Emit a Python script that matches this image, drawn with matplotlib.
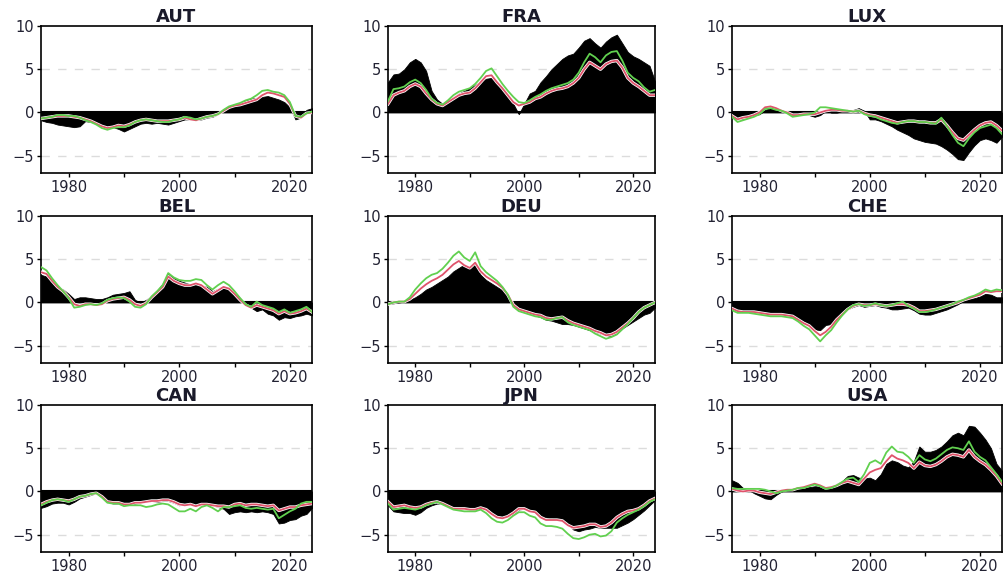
import numpy as np
import matplotlib
matplotlib.use("Agg")
import matplotlib.pyplot as plt
import matplotlib.patheffects as pe

years = np.arange(1975, 2025)
countries = ["AUT", "FRA", "LUX", "BEL", "DEU", "CHE", "CAN", "JPN", "USA"]

# black filled series
aut_fill = [-0.9, -1.1, -1.2, -1.4, -1.5, -1.6, -1.7, -1.6, -1.0, -1.1, -1.3, -1.6, -1.8, -1.7, -1.9, -2.2, -1.9, -1.6, -1.3, -1.2,
            -1.3, -1.2, -1.3, -1.4, -1.2, -1.0, -0.8, -0.8, -0.9, -0.8, -0.6, -0.5, -0.2, 0.2, 0.5, 0.8, 1.0, 1.4, 1.6, 1.7,
            1.8, 1.9, 1.7, 1.5, 1.2, 0.6, -0.8, -0.6, 0.3, 0.5]
fra_fill = [3.5, 4.4, 4.5, 5.0, 5.8, 6.2, 5.8, 4.8, 2.5, 1.5, 1.0, 1.2, 1.8, 2.2, 2.5, 2.8, 3.2, 3.6, 3.9, 4.0,
            3.4, 2.5, 1.8, 1.0, -0.2, 1.0, 2.2, 2.5, 3.5, 4.2, 5.0, 5.6, 6.2, 6.6, 6.8, 7.5, 8.3, 8.6, 8.0, 7.5,
            8.2, 8.7, 9.0, 8.0, 7.0, 6.5, 6.2, 5.8, 5.4, 3.6]
lux_fill = [-0.5, -0.8, -0.7, -0.5, -0.3, -0.2, 0.3, 0.5, 0.3, 0.1, 0.0, -0.3, -0.3, -0.3, -0.3, -0.5, -0.3, 0.2, 0.0, 0.0,
            0.1, 0.1, 0.3, 0.5, 0.2, -0.8, -0.8, -1.0, -1.3, -1.6, -2.0, -2.3, -2.6, -3.0, -3.2, -3.4, -3.5, -3.6, -3.9, -4.3,
            -4.8, -5.4, -5.5, -4.6, -3.8, -3.2, -3.0, -3.2, -3.5, -2.8]
bel_fill = [3.2, 3.0, 2.4, 1.8, 1.5, 1.0, 0.4, 0.6, 0.6, 0.5, 0.4, 0.4, 0.6, 0.9, 1.0, 1.1, 1.3, 0.3, 0.0, 0.3,
            0.8, 1.4, 2.2, 3.3, 2.8, 2.5, 2.3, 2.1, 2.2, 2.0, 1.8, 1.3, 1.6, 1.8, 1.5, 1.2, 0.5, -0.2, -0.6, -1.0,
            -0.8, -1.3, -1.5, -2.0, -1.7, -1.8, -1.6, -1.5, -1.3, -1.5]
deu_fill = [-0.2, -0.1, 0.0, 0.1, 0.3, 0.6, 1.0, 1.5, 1.8, 2.2, 2.6, 3.0, 3.6, 4.0, 4.4, 4.0, 4.5, 3.2, 2.6, 2.2,
            1.8, 1.4, 0.8, -0.3, -0.7, -1.0, -1.3, -1.5, -1.7, -2.0, -2.1, -2.3, -2.5, -2.5, -2.6, -2.8, -3.0, -3.2, -3.4, -3.6,
            -3.8, -3.9, -3.6, -3.0, -2.6, -2.2, -1.8, -1.4, -1.2, -0.6]
che_fill = [-0.6, -0.9, -1.0, -1.1, -1.1, -1.1, -1.3, -1.4, -1.5, -1.5, -1.5, -1.6, -1.9, -2.2, -2.5, -3.1, -3.2, -2.6, -2.5, -1.9,
            -1.4, -0.8, -0.5, -0.3, -0.5, -0.4, -0.3, -0.5, -0.6, -0.8, -0.8, -0.7, -0.6, -0.9, -1.3, -1.4, -1.4, -1.2, -1.0, -0.8,
            -0.5, -0.2, 0.2, 0.4, 0.5, 0.7, 1.0, 0.9, 0.6, 0.6]
can_fill = [-1.9, -1.7, -1.4, -1.3, -1.3, -1.5, -1.2, -0.8, -0.6, -0.4, -0.2, -0.5, -1.2, -1.4, -1.4, -1.6, -1.5, -1.4, -1.3, -1.2,
            -1.1, -1.2, -1.1, -1.1, -1.3, -1.6, -1.4, -1.5, -1.7, -1.5, -1.5, -1.6, -1.8, -2.0, -2.6, -2.4, -2.3, -2.4, -2.3, -2.4,
            -2.3, -2.4, -2.6, -3.7, -3.6, -3.3, -3.2, -2.8, -2.6, -1.9]
jpn_fill = [-1.6, -2.3, -2.4, -2.5, -2.5, -2.7, -2.4, -1.9, -1.6, -1.4, -1.4, -1.6, -1.9, -2.0, -2.0, -2.1, -2.2, -1.8, -1.9, -2.4,
            -2.8, -3.0, -2.9, -2.6, -2.1, -2.0, -2.3, -2.4, -2.8, -3.0, -3.1, -3.2, -3.4, -3.8, -4.4, -4.6, -4.4, -4.3, -4.1, -4.2,
            -4.2, -4.2, -4.2, -3.9, -3.6, -3.2, -2.7, -2.2, -1.6, -1.0]
usa_fill = [1.3, 1.0, 0.4, 0.2, -0.2, -0.5, -0.8, -0.9, -0.4, 0.0, 0.2, 0.3, 0.5, 0.6, 0.5, 0.6, 0.6, 0.4, 0.5, 0.9,
            1.2, 1.8, 1.9, 1.6, 1.5, 1.6, 1.3, 2.0, 3.2, 3.6, 3.4, 3.0, 2.8, 3.5, 5.2, 4.6, 4.6, 4.8, 5.2, 5.8,
            6.5, 6.8, 6.5, 7.6, 7.5, 6.8, 6.0, 5.0, 3.2, 2.4]

# red line series
aut_red = [-0.7, -0.6, -0.5, -0.4, -0.4, -0.4, -0.5, -0.6, -0.8, -1.0, -1.3, -1.6, -1.8, -1.7, -1.5, -1.6, -1.4, -1.1, -0.9, -0.8,
           -0.9, -1.0, -1.0, -1.0, -0.9, -0.8, -0.6, -0.8, -0.9, -0.7, -0.5, -0.4, -0.2, 0.2, 0.6, 0.8, 0.9, 1.1, 1.3, 1.5,
           2.0, 2.3, 2.2, 2.0, 1.8, 1.0, -0.4, -0.6, -0.1, 0.0]
fra_red = [1.0, 2.0, 2.3, 2.5, 3.0, 3.3, 3.0, 2.2, 1.5, 1.0, 0.8, 1.2, 1.6, 2.0, 2.2, 2.3, 2.8, 3.5, 4.2, 4.3,
           3.5, 2.8, 2.0, 1.2, 0.8, 1.0, 1.2, 1.6, 1.8, 2.2, 2.5, 2.7, 2.8, 3.0, 3.4, 4.0, 5.0, 5.8, 5.4, 5.0,
           5.6, 5.9, 6.0, 5.2, 4.0, 3.4, 3.0, 2.5, 2.0, 2.0]
lux_red = [-0.4, -0.8, -0.6, -0.5, -0.3, 0.0, 0.6, 0.7, 0.5, 0.2, 0.0, -0.3, -0.3, -0.2, -0.2, -0.2, 0.0, 0.2, 0.3, 0.3,
           0.2, 0.2, 0.1, 0.2, -0.1, -0.3, -0.4, -0.6, -0.8, -1.0, -1.2, -1.1, -1.0, -1.0, -1.1, -1.1, -1.2, -1.2, -0.8, -1.5,
           -2.3, -3.0, -3.2, -2.6, -2.0, -1.5, -1.2, -1.1, -1.5, -2.1]
bel_red = [3.5, 3.3, 2.5, 1.8, 1.3, 0.6, -0.2, -0.4, -0.2, -0.2, -0.3, -0.2, 0.2, 0.4, 0.5, 0.6, 0.3, -0.2, -0.4, -0.1,
           0.6, 1.2, 1.8, 3.0, 2.5, 2.2, 2.0, 2.0, 2.2, 2.0, 1.5, 1.0, 1.4, 1.8, 1.6, 1.0, 0.3, -0.3, -0.6, -0.3,
           -0.5, -0.7, -0.9, -1.3, -1.0, -1.3, -1.2, -1.0, -0.7, -1.1]
deu_red = [-0.2, 0.0, 0.1, 0.1, 0.4, 1.0, 1.6, 2.1, 2.5, 2.8, 3.2, 3.8, 4.4, 4.8, 4.3, 4.0, 4.6, 3.6, 3.0, 2.6,
           2.2, 1.7, 0.9, -0.3, -0.8, -1.0, -1.2, -1.4, -1.5, -1.8, -1.9, -1.8, -1.7, -2.1, -2.4, -2.6, -2.8, -3.0, -3.3, -3.5,
           -3.8, -3.7, -3.4, -2.9, -2.4, -1.8, -1.1, -0.6, -0.3, 0.0]
che_red = [-0.7, -1.0, -1.1, -1.1, -1.1, -1.2, -1.3, -1.4, -1.4, -1.4, -1.5, -1.6, -2.0, -2.4, -2.7, -3.3, -3.8, -3.4, -2.8, -2.0,
           -1.4, -0.8, -0.4, -0.2, -0.3, -0.3, -0.2, -0.3, -0.4, -0.3, -0.2, -0.2, -0.3, -0.6, -1.0, -1.0, -0.9, -0.8, -0.6, -0.4,
           -0.2, 0.0, 0.3, 0.5, 0.7, 0.9, 1.3, 1.2, 1.3, 1.3]
can_red = [-1.5, -1.2, -1.0, -0.9, -1.0, -1.1, -0.9, -0.6, -0.5, -0.3, -0.2, -0.6, -1.2, -1.3, -1.3, -1.5, -1.5, -1.3, -1.3, -1.2,
           -1.1, -1.1, -1.0, -1.0, -1.2, -1.5, -1.6, -1.5, -1.7, -1.5, -1.5, -1.6, -1.7, -1.7, -1.8, -1.5, -1.4, -1.6, -1.5, -1.5,
           -1.6, -1.7, -1.6, -2.2, -2.0, -1.8, -1.8, -1.6, -1.5, -1.4]
jpn_red = [-1.2, -1.8, -1.7, -1.6, -1.8, -1.9, -1.8, -1.5, -1.3, -1.2, -1.4, -1.7, -2.0, -2.0, -2.0, -2.1, -2.1, -1.9, -2.1, -2.6,
           -3.0, -3.1, -2.9, -2.5, -2.0, -2.0, -2.3, -2.4, -3.0, -3.3, -3.3, -3.3, -3.4, -3.9, -4.2, -4.1, -4.0, -3.8, -3.8, -4.1,
           -4.0, -3.6, -3.0, -2.6, -2.3, -2.2, -2.0, -1.6, -1.1, -0.8]
usa_red = [0.3, 0.1, 0.0, 0.1, 0.1, -0.1, -0.2, -0.3, -0.1, 0.1, 0.2, 0.2, 0.4, 0.5, 0.7, 0.9, 0.7, 0.4, 0.5, 0.7,
           1.0, 1.2, 1.0, 0.8, 1.5, 2.2, 2.5, 2.7, 3.5, 4.2, 3.8, 3.6, 3.3, 2.7, 3.4, 3.0, 2.9, 3.1, 3.5, 4.0,
           4.3, 4.2, 4.0, 4.8, 4.0, 3.5, 3.1, 2.5, 1.8, 0.9]

# green line series
aut_green = [-0.7, -0.6, -0.5, -0.3, -0.3, -0.4, -0.4, -0.6, -0.9, -1.1, -1.4, -1.8, -2.0, -1.8, -1.7, -1.7, -1.5, -1.1, -0.9, -0.8,
             -0.9, -1.0, -1.1, -1.1, -0.9, -0.8, -0.5, -0.6, -0.8, -0.7, -0.5, -0.4, -0.2, 0.3, 0.7, 0.9, 1.1, 1.4, 1.6, 2.0,
             2.5, 2.6, 2.4, 2.3, 2.0, 1.2, -0.4, -0.5, -0.1, 0.1]
fra_green = [1.3, 2.7, 2.8, 3.0, 3.5, 3.8, 3.4, 2.6, 1.6, 1.1, 0.9, 1.4, 2.0, 2.4, 2.6, 2.8, 3.3, 4.0, 4.8, 5.1,
             4.2, 3.3, 2.5, 1.8, 1.2, 1.1, 1.4, 1.8, 2.1, 2.5, 2.8, 3.0, 3.2, 3.4, 3.8, 4.6, 5.8, 6.8, 6.4, 5.8,
             6.6, 7.0, 7.1, 6.0, 4.6, 4.0, 3.6, 2.9, 2.4, 2.6]
lux_green = [-0.5, -1.1, -0.9, -0.7, -0.5, -0.2, 0.4, 0.5, 0.3, 0.2, -0.1, -0.5, -0.4, -0.3, -0.2, 0.0, 0.6, 0.6, 0.5, 0.4,
             0.3, 0.2, 0.1, 0.2, -0.2, -0.4, -0.5, -0.8, -1.0, -1.2, -1.3, -1.1, -1.0, -1.0, -1.1, -1.1, -1.2, -1.3, -0.6, -1.6,
             -2.6, -3.5, -3.9, -3.0, -2.3, -1.8, -1.6, -1.4, -1.8, -2.5]
bel_green = [4.1, 3.7, 2.8, 2.0, 1.3, 0.5, -0.6, -0.5, -0.3, -0.2, -0.3, -0.1, 0.3, 0.5, 0.6, 0.5, 0.1, -0.5, -0.6, -0.2,
             0.7, 1.3, 2.0, 3.4, 2.9, 2.6, 2.5, 2.5, 2.7, 2.6, 2.0, 1.5, 2.0, 2.4, 2.0, 1.3, 0.5, -0.2, -0.5, 0.1,
             -0.3, -0.5, -0.7, -1.1, -0.8, -1.2, -1.0, -0.8, -0.5, -1.1]
deu_green = [-0.2, 0.0, 0.1, 0.1, 0.6, 1.5, 2.2, 2.8, 3.2, 3.4, 3.9, 4.6, 5.4, 5.9, 5.2, 4.8, 5.8, 4.2, 3.5, 3.0,
             2.5, 1.8, 0.9, -0.5, -1.0, -1.2, -1.4, -1.6, -1.7, -2.0, -2.0, -1.8, -1.7, -2.3, -2.6, -2.8, -3.0, -3.2, -3.6, -3.9,
             -4.2, -4.0, -3.7, -3.1, -2.5, -1.8, -1.1, -0.6, -0.3, 0.0]
che_green = [-0.9, -1.2, -1.2, -1.2, -1.3, -1.4, -1.5, -1.6, -1.6, -1.6, -1.7, -1.8, -2.2, -2.7, -3.1, -3.8, -4.5, -3.8, -3.2, -2.3,
             -1.5, -0.8, -0.3, -0.2, -0.4, -0.3, -0.1, -0.3, -0.4, -0.3, -0.1, 0.1, -0.4, -0.7, -1.1, -1.1, -1.0, -0.8, -0.6, -0.4,
             -0.2, 0.1, 0.3, 0.6, 0.8, 1.1, 1.5, 1.3, 1.5, 1.4]
can_green = [-1.6, -1.3, -1.0, -0.9, -1.0, -1.2, -0.9, -0.6, -0.5, -0.3, -0.2, -0.7, -1.3, -1.4, -1.4, -1.7, -1.6, -1.6, -1.6, -1.8,
             -1.7, -1.5, -1.4, -1.5, -1.9, -2.3, -2.3, -2.0, -2.3, -1.8, -1.6, -1.9, -2.3, -1.8, -1.8, -1.7, -1.6, -1.9, -2.0, -1.9,
             -2.0, -2.1, -2.0, -3.1, -2.7, -2.3, -2.0, -1.4, -1.2, -1.2]
jpn_green = [-1.4, -2.1, -2.0, -1.9, -2.0, -2.1, -1.9, -1.6, -1.4, -1.2, -1.5, -1.8, -2.1, -2.2, -2.3, -2.3, -2.3, -2.1, -2.5, -3.1,
             -3.5, -3.6, -3.3, -2.8, -2.4, -2.4, -2.8, -3.0, -3.7, -4.0, -4.0, -4.1, -4.3, -4.9, -5.4, -5.5, -5.3, -5.0, -4.9, -5.2,
             -5.1, -4.6, -3.6, -3.1, -2.7, -2.4, -2.1, -1.7, -1.2, -0.9]
usa_green = [0.4, 0.3, 0.3, 0.3, 0.3, 0.3, 0.2, 0.0, -0.2, 0.0, 0.1, 0.2, 0.4, 0.4, 0.6, 0.8, 0.6, 0.3, 0.4, 0.7,
             1.1, 1.5, 1.6, 1.1, 2.0, 3.3, 3.6, 3.2, 4.5, 5.2, 4.6, 4.5, 4.0, 3.3, 4.2, 3.7, 3.5, 3.8, 4.3, 4.8,
             5.1, 5.0, 4.8, 5.8, 4.6, 4.0, 3.6, 2.8, 2.0, 1.1]

fills = [aut_fill, fra_fill, lux_fill, bel_fill, deu_fill, che_fill, can_fill, jpn_fill, usa_fill]
reds = [aut_red, fra_red, lux_red, bel_red, deu_red, che_red, can_red, jpn_red, usa_red]
greens = [aut_green, fra_green, lux_green, bel_green, deu_green, che_green, can_green, jpn_green, usa_green]

W, H = 1007, 577
fig = plt.figure(figsize=(W / 100, H / 100), dpi=100)
plt.rcParams['font.family'] = ['DejaVu Sans']

col_l = [41, 388, 732]
col_r = [312, 655, 1002]
row_t = [26, 216, 405]
row_h = 147

for i, name in enumerate(countries):
    r, c = divmod(i, 3)
    ax = fig.add_axes([col_l[c] / W, 1 - (row_t[r] + row_h) / H,
                       (col_r[c] - col_l[c]) / W, row_h / H])
    f = np.array(fills[i])
    ax.fill_between(years, 0, f, color='black', lw=0.6, edgecolor='black', zorder=2)
    ax.axhline(0, color='black', lw=1.5, zorder=3)
    for yv in (5, -5):
        ax.axhline(yv, color='#dcdcdc', lw=1.0, ls=(0, (6, 6)), zorder=1)
    ax.plot(years, reds[i], color='#DF536B', lw=1.3, zorder=4,
            path_effects=[pe.Stroke(linewidth=2.4, foreground='white'), pe.Normal()])
    ax.plot(years, greens[i], color='#61D04F', lw=1.3, zorder=5)
    ax.set_xlim(1975, 2024)
    ax.set_ylim(-7, 10)
    ax.set_yticks([-5, 0, 5, 10])
    ax.set_xticks([1980, 1990, 2000, 2010, 2020])
    ax.set_xticklabels(['1980', '', '2000', '', '2020'])
    ax.tick_params(axis='both', direction='out', length=3, width=1, pad=2, labelsize=10.5,
                   labelcolor='#222233')
    for s in ax.spines.values():
        s.set_linewidth(1.2)
    ax.set_title(name, fontsize=13, fontweight='bold', pad=3, color='#1a1a2a')

fig.savefig('out.png', dpi=100)
